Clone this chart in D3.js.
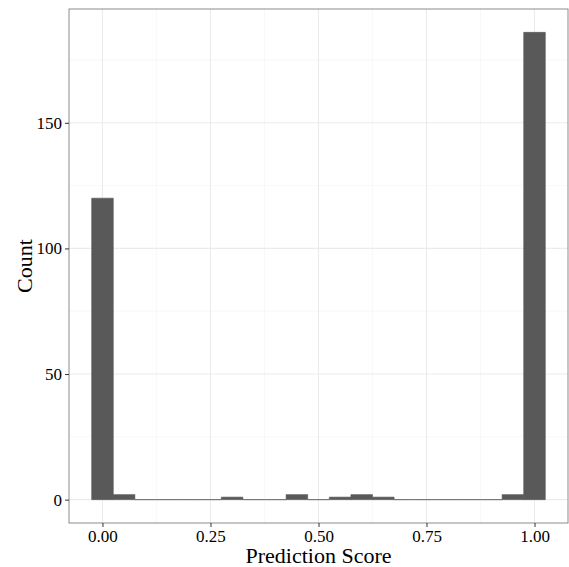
<!DOCTYPE html>
<html>
<head>
<meta charset="utf-8">
<script src="https://cdn.jsdelivr.net/npm/d3@7"></script>
<style>
  body { margin: 0; background: #fff; }
  svg { display: block; }
  svg text { font-family: "Liberation Serif", "DejaVu Serif", serif; }
</style>
</head>
<body>
<svg id="svg" width="569" height="567"></svg>
<script>
// histogram bins (centers) and their counts
var binCenters = [0.00, 0.05, 0.10, 0.15, 0.20, 0.25, 0.30, 0.35, 0.40, 0.45, 0.50,
                  0.55, 0.60, 0.65, 0.70, 0.75, 0.80, 0.85, 0.90, 0.95, 1.00];
var counts = [120, 2, 0, 0, 0, 0, 1, 0, 0, 2, 0, 1, 2, 1, 0, 0, 0, 0, 0, 2, 186];
var binWidth = 0.05;
var xTicks = [0, 0.25, 0.5, 0.75, 1];
var xMinor = [0.125, 0.375, 0.625, 0.875];
var yTicks = [0, 50, 100, 150];
var yMinor = [25, 75, 125, 175];

(function() {

var svg = d3.select('#svg');
var pLeft = 69, pRight = 568, pTop = 9, pBottom = 523;

// ggplot style 5% expansion
var xLo = binCenters[0] - binWidth / 2, xHi = binCenters[binCenters.length - 1] + binWidth / 2;
var xPad = (xHi - xLo) * 0.05;
var x = d3.scaleLinear().domain([xLo - xPad, xHi + xPad]).range([pLeft, pRight]);
var yMax = d3.max(counts);
var y = d3.scaleLinear().domain([-yMax * 0.05, yMax * 1.05]).range([pBottom, pTop]);

// grid
var grid = svg.append('g');
grid.selectAll('line.xminor').data(xMinor).enter().append('line')
  .attr('x1', d => x(d)).attr('x2', d => x(d)).attr('y1', pTop).attr('y2', pBottom)
  .attr('stroke', '#f4f4f4').attr('stroke-width', 0.6);
grid.selectAll('line.yminor').data(yMinor).enter().append('line')
  .attr('y1', d => y(d)).attr('y2', d => y(d)).attr('x1', pLeft).attr('x2', pRight)
  .attr('stroke', '#f4f4f4').attr('stroke-width', 0.6);
grid.selectAll('line.xmajor').data(xTicks).enter().append('line')
  .attr('x1', d => x(d)).attr('x2', d => x(d)).attr('y1', pTop).attr('y2', pBottom)
  .attr('stroke', '#ebebeb').attr('stroke-width', 1.1);
grid.selectAll('line.ymajor').data(yTicks).enter().append('line')
  .attr('y1', d => y(d)).attr('y2', d => y(d)).attr('x1', pLeft).attr('x2', pRight)
  .attr('stroke', '#ebebeb').attr('stroke-width', 1.1);

// bars as paths so empty bins still show as a flat line
function barPath(d, i) {
  var p = d3.path();
  var x0 = x(d - binWidth / 2), x1 = x(d + binWidth / 2);
  p.moveTo(x0, y(0));
  p.lineTo(x1, y(0));
  p.lineTo(x1, y(counts[i]));
  p.lineTo(x0, y(counts[i]));
  p.closePath();
  return p.toString();
}
svg.selectAll('path.bar').data(binCenters).enter().append('path')
  .attr('class', 'bar')
  .attr('d', barPath)
  .attr('fill', '#595959')
  .attr('stroke', '#595959')
  .attr('stroke-width', 0.6);

// panel border
svg.append('rect')
  .attr('x', pLeft).attr('y', pTop)
  .attr('width', pRight - pLeft).attr('height', pBottom - pTop)
  .attr('fill', 'none').attr('stroke', '#8c8c8c').attr('stroke-width', 1);

// axes
var xAxis = d3.axisBottom(x).tickValues(xTicks).tickFormat(d3.format('.2f'))
  .tickSizeInner(4).tickSizeOuter(0).tickPadding(3);
var gx = svg.append('g').attr('transform', 'translate(0,' + pBottom + ')').call(xAxis);
gx.select('.domain').remove();
gx.selectAll('line').attr('stroke', '#333');
gx.selectAll('text').attr('font-size', 17).attr('fill', '#000')
  .attr('font-family', '"Liberation Serif", serif');

var yAxis = d3.axisLeft(y).tickValues(yTicks).tickSizeInner(4).tickSizeOuter(0).tickPadding(3);
var gy = svg.append('g').attr('transform', 'translate(' + pLeft + ',0)').call(yAxis);
gy.select('.domain').remove();
gy.selectAll('line').attr('stroke', '#333');
gy.selectAll('text').attr('font-size', 17).attr('fill', '#000')
  .attr('font-family', '"Liberation Serif", serif');

// titles
svg.append('text')
  .attr('x', (pLeft + pRight) / 2).attr('y', 563)
  .attr('text-anchor', 'middle').attr('font-size', 22)
  .text('Prediction Score');
svg.append('text')
  .attr('transform', 'translate(32,' + ((pTop + pBottom) / 2) + ') rotate(-90)')
  .attr('text-anchor', 'middle').attr('font-size', 22)
  .text('Count');

})();
</script>
</body>
</html>
